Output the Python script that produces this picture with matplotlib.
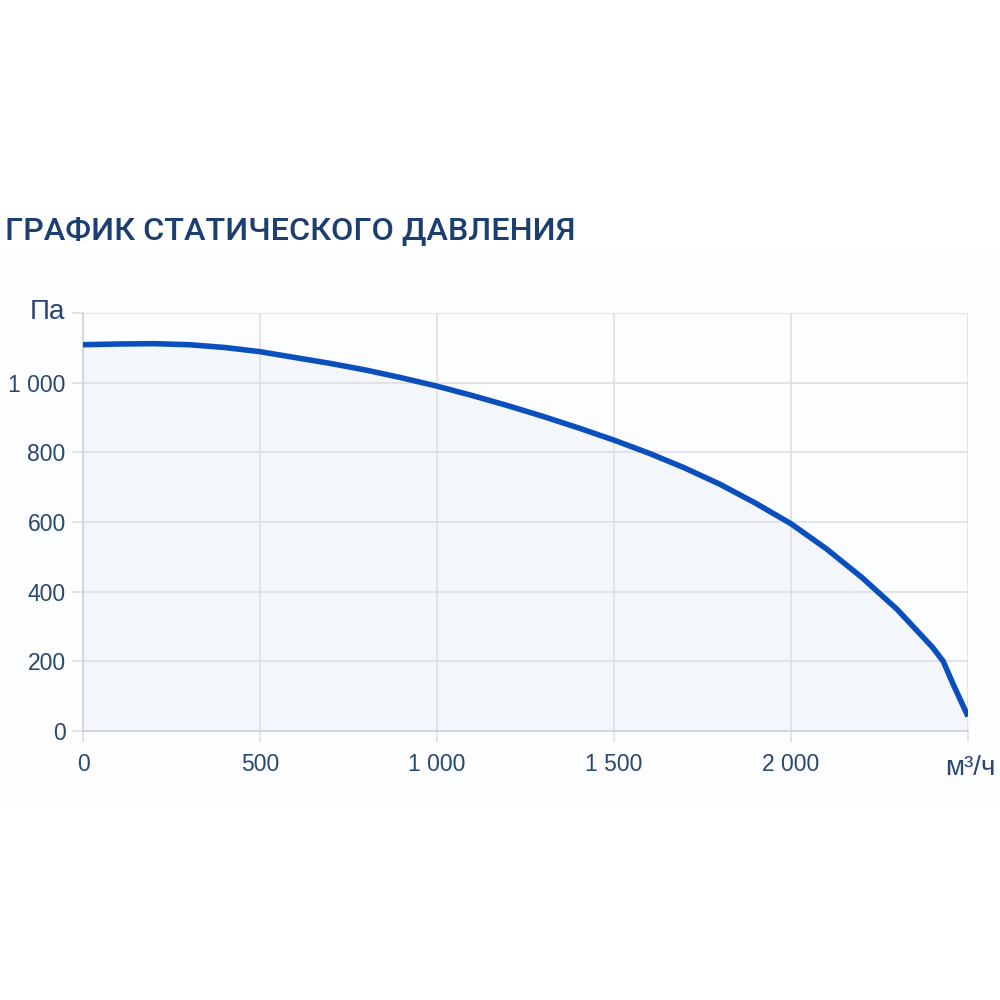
import matplotlib.pyplot as plt
from matplotlib.patches import Rectangle

# flow (m3/h) vs static pressure (Pa)
flow = [0, 100, 200, 300, 400, 500, 600, 700, 800, 900, 1000, 1100, 1200, 1300,
        1400, 1500, 1600, 1700, 1800, 1900, 2000, 2100, 2200, 2300, 2400, 2430,
        2460, 2500]
pressure = [1109, 1111, 1112, 1109, 1101, 1089, 1072, 1055, 1036, 1014, 990, 963,
            934, 903, 870, 835, 797, 755, 708, 654, 595, 523, 441, 349, 240, 200,
            130, 42]

x_ticks = [0, 500, 1000, 1500, 2000, 2500]
x_labels = ['0', '500', '1 000', '1 500', '2 000', '']
y_ticks = [0, 200, 400, 600, 800, 1000, 1200]
y_labels = ['0', '200', '400', '600', '800', '1 000', '']

line_col = '#0b4fbd'
text_col = '#2b4670'
title_col = '#1d3f70'

fig = plt.figure(figsize=(10, 10), dpi=100)
fig.patches.append(Rectangle((0, 0.2), 1, 0.55, transform=fig.transFigure,
                             color='#fcfdfe', zorder=-1))

ax = fig.add_axes([0.083, 0.269, 0.885, 0.418])
ax.set_facecolor('none')
ax.plot(flow, pressure, color=line_col, lw=4, solid_joinstyle='round',
        solid_capstyle='butt', zorder=3)
ax.fill_between(flow, pressure, 0, color='#f3f6fb', zorder=1)

ax.set_xlim(0, 2500)
ax.set_ylim(0, 1200)
ax.set_xticks(x_ticks)
ax.set_xticklabels(x_labels)
ax.set_yticks(y_ticks)
ax.set_yticklabels(y_labels)
ax.grid(True, color='#dedfe3', lw=1.2, zorder=0)
for s in ['top', 'right']:
    ax.spines[s].set_visible(False)
for s in ['left', 'bottom']:
    ax.spines[s].set_color('#cfd1d6')
    ax.spines[s].set_linewidth(1.2)
ax.tick_params(axis='both', colors='#dedfe3', width=1.2, length=8,
               labelcolor=text_col, labelsize=16.5)
ax.tick_params(axis='y', pad=4.5)
ax.tick_params(axis='x', pad=7.5)
for lbl in ax.get_xticklabels() + ax.get_yticklabels():
    lbl.set_family('Liberation Sans')

fig.text(0.005, 0.769, 'ГРАФИК СТАТИЧЕСКОГО ДАВЛЕНИЯ', fontsize=23.3,
         fontweight='medium', color=title_col, family='Roboto', va='center', ha='left')
fig.text(0.047, 0.688, 'Па', fontsize=20, color=text_col, family='Liberation Sans',
         ha='center', va='center')
fig.text(0.97, 0.232, 'м³/ч', fontsize=20, color=text_col, family='Liberation Sans',
         ha='center', va='center')

fig.savefig('out.png', dpi=100)
